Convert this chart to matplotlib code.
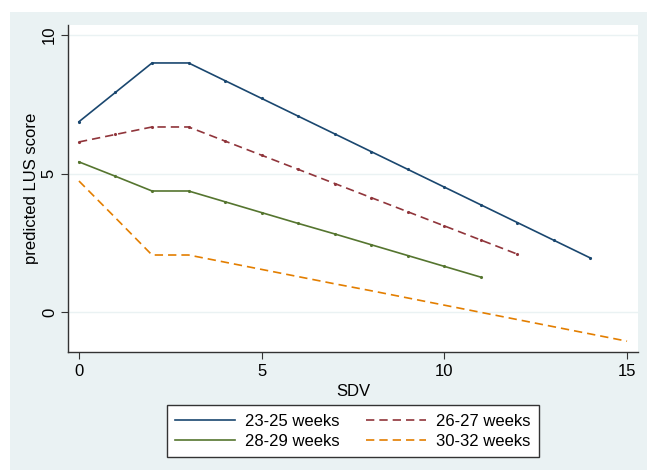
import matplotlib.pyplot as plt

plt.rcParams['font.family'] = ['Liberation Sans', 'DejaVu Sans']

# predicted LUS score by SDV, per gestational age group
x_2325 = list(range(0, 15))
y_2325 = [6.87, 7.93, 8.99, 8.99, 8.35, 7.71, 7.07, 6.43, 5.79, 5.15, 4.51, 3.87, 3.23, 2.59, 1.95]

x_2627 = list(range(0, 13))
y_2627 = [6.14, 6.41, 6.68, 6.68, 6.17, 5.66, 5.15, 4.64, 4.13, 3.62, 3.11, 2.60, 2.09]

x_2829 = list(range(0, 12))
y_2829 = [5.42, 4.90, 4.37, 4.37, 3.98, 3.59, 3.20, 2.82, 2.43, 2.04, 1.65, 1.26]

x_3032 = list(range(0, 16))
y_3032 = [4.73, 3.40, 2.06, 2.06, 1.80, 1.54, 1.28, 1.02, 0.77, 0.51, 0.25, -0.01, -0.27, -0.53, -0.79, -1.05]

labels = ['23-25 weeks', '26-27 weeks', '28-29 weeks', '30-32 weeks']
colors = ['#1a476f', '#90353b', '#55752f', '#e37e00']

bg = '#eaf2f3'

fig = plt.figure(figsize=(6.47, 4.70), dpi=100, facecolor='white')

# graph region background (light blue-gray), slightly inset from the image edge
back = fig.add_axes([10/647, 0, 1 - 10/647, 1 - 12/470], zorder=-1)
back.set_facecolor(bg)
back.set_xticks([])
back.set_yticks([])
for s in back.spines.values():
    s.set_visible(False)

ax = fig.add_axes([68/647, 1 - 352/470, 570/647, 327/470], zorder=1)
ax.set_facecolor('white')

l1, = ax.plot(x_2325, y_2325, color=colors[0], lw=1.2, marker='.', ms=2.5)
l2, = ax.plot(x_2627, y_2627, color=colors[1], lw=1.2, ls=(0, (5, 3)), marker='.', ms=2.5)
l3, = ax.plot(x_2829, y_2829, color=colors[2], lw=1.2, marker='.', ms=2.5)
l4, = ax.plot(x_3032, y_3032, color=colors[3], lw=1.2, ls=(0, (5, 3)))

ax.set_xlim(-0.3, 15.3)
ax.set_ylim(-1.44, 10.36)
ax.set_xticks([0, 5, 10, 15])
ax.set_yticks([0, 5, 10])
ax.yaxis.grid(True, color=bg, lw=1)
ax.set_axisbelow(True)
for s in ['top', 'right']:
    ax.spines[s].set_visible(False)
for s in ['left', 'bottom']:
    ax.spines[s].set_color('#333333')
    ax.spines[s].set_linewidth(1.0)
ax.tick_params(direction='out', length=5, color='#333333', labelsize=12)
ax.tick_params(axis='y', pad=3)
plt.setp(ax.get_yticklabels(), rotation=90, va='center')
ax.set_xlabel('SDV', fontsize=12, labelpad=4)
ax.set_ylabel('predicted LUS score', fontsize=12, labelpad=2)

leg = fig.legend([l1, l3, l2, l4], [labels[0], labels[2], labels[1], labels[3]],
                 ncol=2, loc='center', bbox_to_anchor=(353/647, 1 - 431/470),
                 fontsize=12, frameon=True, fancybox=False, handlelength=3.6,
                 handletextpad=0.6, columnspacing=1.6, borderpad=0.5,
                 labelspacing=0.3, framealpha=1)
leg.set_zorder(5)
leg.get_frame().set_edgecolor('#333333')
leg.get_frame().set_linewidth(1.0)
for h in leg.legend_handles:
    h.set_marker('')

fig.savefig('out.png', dpi=100, facecolor='white')
